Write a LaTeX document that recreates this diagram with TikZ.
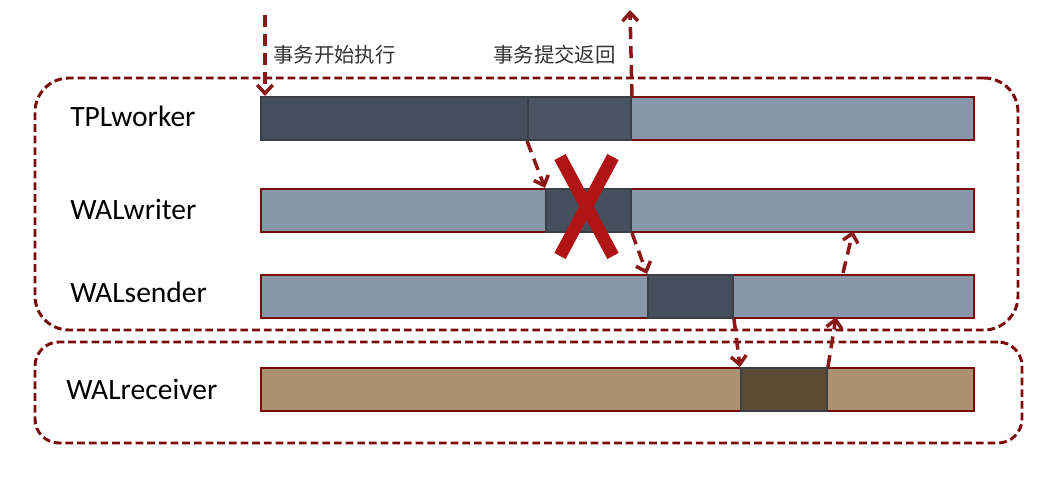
\documentclass[tikz,border=0pt]{standalone}
\usepackage{fontspec}
\setmainfont{Carlito}
\newfontfamily\cjk{Noto Sans CJK SC}
\usetikzlibrary{arrows.meta,calc}
\definecolor{lanered}{HTML}{7B0A0A}
\definecolor{flowred}{HTML}{8B1818}
\definecolor{crossred}{HTML}{B01414}
\definecolor{idleblue}{HTML}{8796A9}
\definecolor{busyblue}{HTML}{444E5C}
\definecolor{waitblue}{HTML}{4A5462}
\definecolor{idletan}{HTML}{AB9170}
\definecolor{busytan}{HTML}{5A4B34}
\definecolor{busyedge}{HTML}{3A3F47}
\newcommand{\px}{0.025cm}

\begin{document}
\begin{tikzpicture}[x=0.025cm,y=-0.025cm,>={Straight Barb[length=6pt,width=11pt]},
    seg/.style={anchor=north west,inner sep=0pt,minimum height=43*\px,line width=1.4pt},
    idle/.style={seg,draw=lanered,fill=idleblue},
    busy/.style={seg,draw=busyedge,fill=busyblue},
    lane/.style={anchor=west,inner sep=0pt,font=\fontsize{21}{25}\selectfont},
    note/.style={anchor=west,inner sep=0pt,font=\cjk\fontsize{14.5}{17}\selectfont,text=black!80},
    group/.style={draw=lanered,line width=2.1pt,dash pattern=on 5.5pt off 2.8pt},
    flow/.style={->,draw=flowred,line width=2.5pt,dash pattern=on 8.5pt off 5pt},
    cross/.style={draw=crossred,line width=0.32cm}]
  \useasboundingbox (0,0) rectangle (1060,492);
  % process groups
  \node[group,rounded corners=0.85cm,minimum width=983*\px,minimum height=252*\px] (primary) at (526.5,204) {};
  \node[group,rounded corners=0.6cm,minimum width=987*\px,minimum height=101*\px] (standby) at (528.5,392.5) {};
  % lane names
  \node[lane] (tplname) at (70,116) {TPLworker};
  \node[lane] (walwname) at (70,209) {WALwriter};
  \node[lane] (walsname) at (70,292) {WALsender};
  \node[lane] (walrname) at (66,389) {WALreceiver};
  % TPLworker
  \node[idle,minimum width=343*\px] (tplC) at (630,96) {};
  \node[busy,minimum width=267*\px] (tplA) at (260,96) {};
  \node[busy,fill=waitblue,minimum width=103*\px] (tplB) at (527,96) {};
  % WALwriter
  \node[idle,minimum width=285*\px] (walwA) at (260,188) {};
  \node[idle,minimum width=343*\px] (walwC) at (630,188) {};
  \node[busy,minimum width=85*\px] (walwB) at (545,188) {};
  % WALsender
  \node[idle,minimum width=387*\px] (walsA) at (260,274) {};
  \node[idle,minimum width=241*\px] (walsC) at (732,274) {};
  \node[busy,minimum width=85*\px] (walsB) at (647,274) {};
  % WALreceiver
  \node[idle,fill=idletan,minimum width=480*\px] (walrA) at (260,367) {};
  \node[idle,fill=idletan,minimum width=147*\px] (walrC) at (826,367) {};
  \node[busy,fill=busytan,minimum width=86*\px] (walrB) at (740,367) {};
  % notes
  \node[note] (startnote) at (273,55) {事务开始执行};
  \node[note] (commitnote) at (493,55) {事务提交返回};
  % flow
  \coordinate (begin) at (265,15);
  \coordinate (reply) at (630,10);
  \coordinate (ack1) at (836,317);
  \coordinate (ack0) at (843,273);
  \coordinate (ack2) at (853,231);
  \draw[flow] (begin) -- (begin |- tplA.north);
  \draw[flow] (tplB.north east) -- (reply);
  \draw[flow] (tplB.south west) -- (walwB.north west);
  \draw[flow] (walwB.south east) -- (walsB.north west);
  \draw[flow] (walsB.south east) -- (walrB.north west);
  \draw[flow] (walrB.north east) -- (ack1);
  \draw[flow] (ack0) -- (ack2);
  % lost write
  \draw[cross] (560,157) -- (613,256);
  \draw[cross] (613,157) -- (560,256);
\end{tikzpicture}
\end{document}
